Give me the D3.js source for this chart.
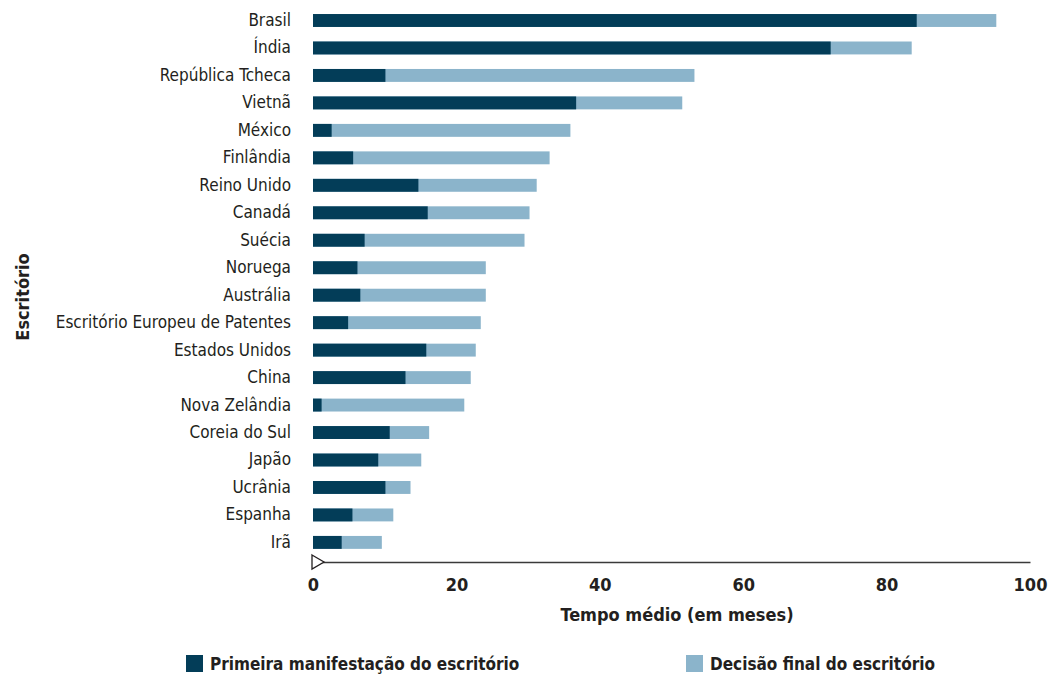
<!DOCTYPE html>
<html>
<head>
<meta charset="utf-8">
<script src="https://cdn.jsdelivr.net/npm/d3@7"></script>
<style>
  body { margin: 0; background: #fff; }
  svg text { font-family: "DejaVu Sans Condensed", "DejaVu Sans", sans-serif; font-stretch: condensed; }
</style>
</head>
<body>
<div id="chart"></div>
<script>
// data (months)
const escritorios = ['Brasil', 'Índia', 'República Tcheca', 'Vietnã', 'México', 'Finlândia',
    'Reino Unido', 'Canadá', 'Suécia', 'Noruega', 'Austrália', 'Escritório Europeu de Patentes',
    'Estados Unidos', 'China', 'Nova Zelândia', 'Coreia do Sul', 'Japão', 'Ucrânia', 'Espanha', 'Irã'];
const primeiraManifestacao = [84.2, 72.2, 10.1, 36.7, 2.6, 5.6, 14.7, 16.0, 7.2, 6.2, 6.6, 4.9,
    15.8, 12.9, 1.2, 10.7, 9.1, 10.1, 5.5, 4.0];
const decisaoFinal = [95.3, 83.5, 53.2, 51.5, 35.9, 33.0, 31.2, 30.2, 29.5, 24.1, 24.1, 23.4,
    22.7, 22.0, 21.1, 16.2, 15.1, 13.6, 11.2, 9.6];
const xTicks = [0, 20, 40, 60, 80, 100];

const series = [
    { name: 'Decisão final do escritório', values: decisaoFinal, color: '#8bb4cb' },
    { name: 'Primeira manifestação do escritório', values: primeiraManifestacao, color: '#033d58' }
];

const width = 1051, height = 675;
const svg = d3.select('#chart').append('svg')
    .attr('width', width)
    .attr('height', height);

const x = d3.scaleLinear().domain([0, 100]).range([313, 1030]);
const y = d3.scaleBand().domain(escritorios).range([5.8, 557.1])
    .paddingInner(0.53).paddingOuter(0.3);

// bars: light (total) underneath, dark (first reply) on top
series.forEach(s => {
    svg.append('g').selectAll('rect')
        .data(escritorios)
        .join('rect')
        .attr('x', x(0))
        .attr('y', d => y(d))
        .attr('width', (d, i) => x(s.values[i]) - x(0))
        .attr('height', y.bandwidth())
        .attr('fill', s.color);
});

// category labels
const yAxis = svg.append('g')
    .attr('transform', 'translate(300,0)')
    .call(d3.axisLeft(y).tickSize(0).tickPadding(9));
yAxis.select('.domain').remove();
yAxis.selectAll('text')
    .attr('font-size', 17)
    .attr('fill', '#231f20');

// x axis
const axisY = 562;
const xAxis = svg.append('g')
    .attr('transform', `translate(0,${axisY})`)
    .call(d3.axisBottom(x).tickValues(xTicks).tickSize(0).tickPadding(16));
xAxis.select('.domain').attr('stroke', '#3a3a3a').attr('stroke-width', 1.6);
xAxis.selectAll('text')
    .attr('font-size', 18)
    .attr('font-weight', 'bold')
    .attr('fill', '#231f20');

// little open triangle at the origin
svg.append('path')
    .attr('d', `M${x(0) - 1},${axisY - 7} L${x(0) + 11},${axisY} L${x(0) - 1},${axisY + 7} Z`)
    .attr('fill', '#fff')
    .attr('stroke', '#231f20')
    .attr('stroke-width', 1.3);

// axis titles
svg.append('text')
    .attr('x', 677)
    .attr('y', 621)
    .attr('text-anchor', 'middle')
    .attr('font-size', 18)
    .attr('font-weight', 'bold')
    .attr('fill', '#231f20')
    .text('Tempo médio (em meses)');

svg.append('text')
    .attr('transform', 'translate(29,297) rotate(-90)')
    .attr('text-anchor', 'middle')
    .attr('font-size', 18)
    .attr('font-weight', 'bold')
    .attr('fill', '#231f20')
    .text('Escritório');

// legend
const legendItems = [
    { label: series[1].name, color: series[1].color, x: 186 },
    { label: series[0].name, color: series[0].color, x: 686 }
];
const legend = svg.append('g').selectAll('g')
    .data(legendItems)
    .join('g')
    .attr('transform', d => `translate(${d.x},655)`);
legend.append('rect')
    .attr('width', 17)
    .attr('height', 17)
    .attr('fill', d => d.color);
legend.append('text')
    .attr('x', 24)
    .attr('y', 15)
    .attr('font-size', 17)
    .attr('font-weight', 'bold')
    .attr('fill', '#231f20')
    .text(d => d.label);
</script>
</body>
</html>
